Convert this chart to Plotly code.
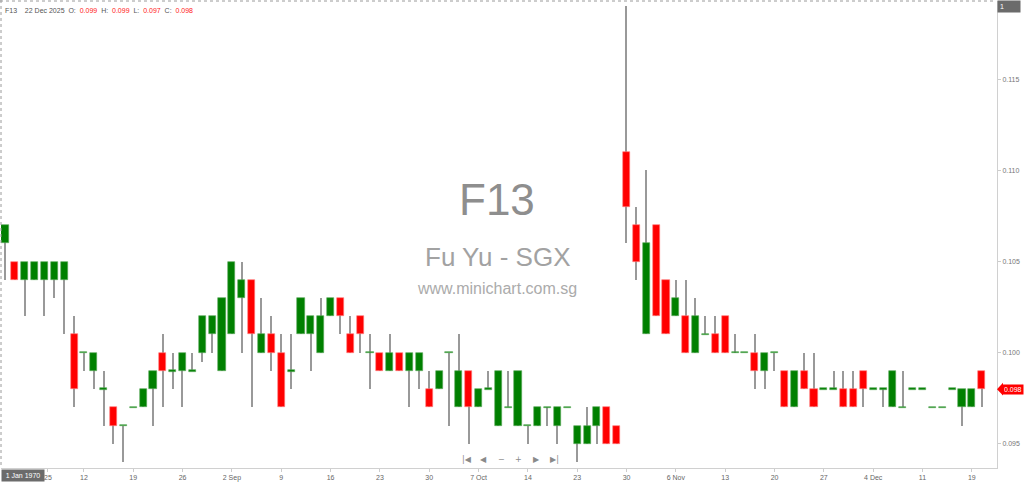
import plotly.graph_objects as go

# ---------------- data ----------------
symbol = "F13"
company = "Fu Yu - SGX"
site = "www.minichart.com.sg"
last_date = "22 Dec 2025"

opens = [0.106, 0.105, 0.104, 0.104, 0.104, 0.104, 0.104, 0.101, 0.100, 0.099,
         0.098, 0.097, 0.096, 0.097, 0.097, 0.098, 0.100, 0.099, 0.099, 0.099,
         0.100, 0.101, 0.099, 0.101, 0.103, 0.104, 0.100, 0.101, 0.100, 0.099,
         0.101, 0.101, 0.100, 0.102, 0.103, 0.101, 0.102, 0.100, 0.100, 0.099,
         0.100, 0.099, 0.099, 0.098, 0.098, 0.100, 0.097, 0.099, 0.097, 0.098,
         0.096, 0.097, 0.096, 0.096, 0.096, 0.097, 0.096, 0.097, 0.095, 0.095,
         0.096, 0.097, 0.096, 0.111, 0.107, 0.101, 0.107, 0.104, 0.102, 0.102,
         0.100, 0.101, 0.101, 0.102, 0.100, 0.100, 0.100, 0.099, 0.100, 0.099,
         0.097, 0.099, 0.098, 0.098, 0.098, 0.098, 0.098, 0.099, 0.098, 0.098,
         0.097, 0.097, 0.098, 0.098, 0.097, 0.097, 0.098, 0.097, 0.097, 0.099]
highs = [0.107, 0.105, 0.105, 0.105, 0.105, 0.105, 0.105, 0.102, 0.100, 0.100,
         0.099, 0.097, 0.096, 0.097, 0.098, 0.099, 0.101, 0.100, 0.100, 0.100,
         0.102, 0.102, 0.103, 0.105, 0.105, 0.104, 0.103, 0.102, 0.101, 0.101,
         0.103, 0.102, 0.103, 0.103, 0.103, 0.102, 0.102, 0.101, 0.100, 0.101,
         0.100, 0.100, 0.100, 0.099, 0.099, 0.100, 0.101, 0.099, 0.098, 0.099,
         0.099, 0.099, 0.099, 0.096, 0.097, 0.097, 0.097, 0.097, 0.096, 0.097,
         0.097, 0.097, 0.096, 0.119, 0.108, 0.110, 0.107, 0.104, 0.104, 0.104,
         0.103, 0.102, 0.102, 0.102, 0.101, 0.100, 0.101, 0.100, 0.100, 0.099,
         0.099, 0.100, 0.100, 0.098, 0.099, 0.099, 0.099, 0.099, 0.098, 0.098,
         0.099, 0.099, 0.098, 0.098, 0.097, 0.097, 0.098, 0.098, 0.098, 0.099]
lows = [0.104, 0.104, 0.102, 0.104, 0.102, 0.103, 0.101, 0.097, 0.099, 0.098,
        0.096, 0.095, 0.094, 0.097, 0.097, 0.096, 0.097, 0.098, 0.097, 0.099,
        0.0995, 0.100, 0.099, 0.101, 0.100, 0.097, 0.100, 0.099, 0.097, 0.098,
        0.101, 0.099, 0.100, 0.102, 0.101, 0.100, 0.100, 0.098, 0.099, 0.099,
        0.099, 0.097, 0.098, 0.097, 0.098, 0.096, 0.097, 0.095, 0.097, 0.098,
        0.096, 0.097, 0.096, 0.095, 0.096, 0.096, 0.095, 0.097, 0.094, 0.095,
        0.095, 0.095, 0.095, 0.106, 0.104, 0.101, 0.102, 0.101, 0.102, 0.100,
        0.100, 0.101, 0.100, 0.100, 0.100, 0.100, 0.098, 0.098, 0.099, 0.097,
        0.097, 0.098, 0.097, 0.098, 0.098, 0.097, 0.097, 0.097, 0.098, 0.097,
        0.097, 0.097, 0.098, 0.098, 0.097, 0.097, 0.098, 0.096, 0.097, 0.097]
closes = [0.107, 0.104, 0.105, 0.105, 0.105, 0.105, 0.105, 0.098, 0.100, 0.100,
          0.098, 0.096, 0.096, 0.097, 0.098, 0.099, 0.099, 0.099, 0.100, 0.099,
          0.102, 0.102, 0.103, 0.105, 0.104, 0.101, 0.101, 0.100, 0.097, 0.099,
          0.103, 0.102, 0.102, 0.103, 0.102, 0.100, 0.101, 0.100, 0.099, 0.100,
          0.099, 0.100, 0.100, 0.097, 0.099, 0.100, 0.099, 0.097, 0.098, 0.098,
          0.099, 0.097, 0.099, 0.096, 0.097, 0.097, 0.097, 0.097, 0.096, 0.096,
          0.097, 0.095, 0.095, 0.108, 0.105, 0.106, 0.102, 0.101, 0.103, 0.100,
          0.102, 0.101, 0.100, 0.100, 0.100, 0.100, 0.099, 0.100, 0.100, 0.097,
          0.099, 0.098, 0.097, 0.098, 0.098, 0.097, 0.097, 0.098, 0.098, 0.098,
          0.099, 0.097, 0.098, 0.098, 0.097, 0.097, 0.098, 0.098, 0.098, 0.098]

tick_index = [4.35, 8, 13, 18, 23, 28, 33, 38, 43, 48, 53, 58, 63, 68, 73, 78, 83, 88, 93, 98]
tick_labels = ["25", "12", "19", "26", "2 Sep", "9", "16", "23", "30", "7 Oct",
               "14", "23", "30", "6 Nov", "13", "20", "27", "4 Dec", "11", "19"]
price_ticks = [0.095, 0.100, 0.105, 0.110, 0.115]

# ---------------- styling ----------------
UP = "#008000"
DOWN = "#ff0000"
WICK = "#999999"
FONT = "Liberation Sans, Arial, sans-serif"

n = len(opens)
xs = list(range(n))
flat_h = 0.00008
body_base, body_h, body_col, body_line = [], [], [], []
for o, c in zip(opens, closes):
    lo, hi = min(o, c), max(o, c)
    if hi - lo < 1e-9:
        body_base.append(lo - flat_h / 2)
        body_h.append(flat_h)
    else:
        body_base.append(lo)
        body_h.append(hi - lo)
    up = c >= o
    body_col.append(UP if up else DOWN)
    body_line.append("#5aa85a" if up else "#ff8080")

fig = go.Figure()
# wicks
fig.add_trace(go.Bar(
    x=xs, base=lows, y=[h - l for h, l in zip(highs, lows)],
    width=0.13, marker=dict(color=WICK, line=dict(width=0)),
    hoverinfo="skip", showlegend=False))
# bodies
fig.add_trace(go.Bar(
    x=xs, base=body_base, y=body_h, width=0.72,
    marker=dict(color=body_col, line=dict(color=body_line, width=0.6)),
    customdata=list(zip(opens, highs, lows, closes)),
    hovertemplate="O %{customdata[0]:.3f}<br>H %{customdata[1]:.3f}<br>"
                  "L %{customdata[2]:.3f}<br>C %{customdata[3]:.3f}<extra></extra>",
    showlegend=False))

# ---------------- layout ----------------
L, R, T, B = 1, 27, 1, 16
W, H = 1024, 484
pw, ph = W - L - R, H - T - B


def px(xp):
    return (xp - L) / pw


def py(yp):
    return (H - B - yp) / ph


annotations = []
hdr = (f"{symbol}&nbsp;&nbsp;&nbsp; {last_date}&nbsp; O:&nbsp; <span style='color:#ff2020'>{opens[-1]:.3f}</span>"
       f"&nbsp; H:&nbsp; <span style='color:#ff2020'>{highs[-1]:.3f}</span>"
       f"&nbsp; L:&nbsp; <span style='color:#ff2020'>{lows[-1]:.3f}</span>"
       f"&nbsp; C:&nbsp; <span style='color:#ff2020'>{closes[-1]:.3f}</span>")
annotations.append(dict(text=hdr, xref="paper", yref="paper", x=px(3), y=py(10),
                        xanchor="left", yanchor="middle", showarrow=False,
                        font=dict(family=FONT, size=7, color="#555555")))
annotations.append(dict(text=symbol, xref="paper", yref="paper", x=px(497), y=py(199),
                        xanchor="center", yanchor="middle", showarrow=False,
                        font=dict(family=FONT, size=44, color="#8e8e8e")))
annotations.append(dict(text=company, xref="paper", yref="paper", x=px(497), y=py(257.5),
                        xanchor="center", yanchor="middle", showarrow=False,
                        font=dict(family=FONT, size=26, color="#a2a2a2")))
annotations.append(dict(text=site, xref="paper", yref="paper", x=px(497), y=py(288.5),
                        xanchor="center", yanchor="middle", showarrow=False,
                        font=dict(family=FONT, size=16, color="#ababab")))
nav = ["|◀", "◀", "−", "+", "▶", "▶|"]
nav_x = [466.7, 483.3, 501, 518.3, 536.7, 554.3]
for t, xx in zip(nav, nav_x):
    annotations.append(dict(text=t, xref="paper", yref="paper", x=px(xx), y=py(459),
                            xanchor="center", yanchor="middle", showarrow=False,
                            font=dict(family="DejaVu Sans", size=8, color="#8a8a8a")))
annotations.append(dict(text="1 Jan 1970", xref="paper", yref="paper", x=px(1), y=py(476),
                        xanchor="left", yanchor="middle", showarrow=False, width=38,
                        bgcolor="#6b6b6b", borderpad=2,
                        font=dict(family=FONT, size=7, color="#ffffff")))
annotations.append(dict(text="1", xref="paper", yref="paper", x=px(997), y=py(6.5),
                        xanchor="left", yanchor="middle", showarrow=False, width=18,
                        align="left", bgcolor="#6b6b6b", borderpad=2,
                        font=dict(family=FONT, size=7, color="#ffffff")))
annotations.append(dict(text=f"{closes[-1]:.3f}", xref="paper", yref="y", x=px(1002), y=closes[-1],
                        xanchor="left", yanchor="middle", showarrow=False, width=18,
                        align="left", bgcolor=DOWN if closes[-1] < opens[-1] else UP, borderpad=1,
                        font=dict(family=FONT, size=7, color="#ffffff")))

dy = 0.00035
shapes = [
    dict(type="line", xref="paper", yref="paper", x0=px(0), x1=px(996), y0=py(1), y1=py(1),
         line=dict(color="#9a9a9a", width=1, dash="dot")),
    dict(type="line", xref="paper", yref="paper", x0=px(1), x1=px(1), y0=py(0), y1=py(468),
         line=dict(color="#9a9a9a", width=1, dash="dot")),
    dict(type="path", xref="paper", yref="y",
         path=f"M {px(997)},{closes[-1]} L {px(1003)},{closes[-1] + dy} L {px(1003)},{closes[-1] - dy} Z",
         fillcolor=DOWN, line=dict(width=0)),
]

fig.update_layout(
    width=W, height=H, autosize=False,
    margin=dict(l=L, r=R, t=T, b=B, pad=0),
    paper_bgcolor="#ffffff", plot_bgcolor="#ffffff",
    barmode="overlay", bargap=0, showlegend=False,
    font=dict(family=FONT, size=7, color="#666666"),
    xaxis=dict(range=[-0.405, 100.55], tickmode="array", tickvals=tick_index,
               ticktext=tick_labels, showgrid=False, zeroline=False,
               showline=True, linecolor="#d0d0d0", linewidth=1,
               ticks="outside", ticklen=3, tickcolor="#cccccc",
               tickfont=dict(family=FONT, size=7, color="#666666"), fixedrange=True),
    yaxis=dict(range=[0.093679, 0.119282], side="right", tickmode="array",
               tickvals=price_ticks, ticktext=[f"{v:.3f}" for v in price_ticks],
               showgrid=False, zeroline=False, showline=True, linecolor="#d0d0d0",
               linewidth=1, ticks="outside", ticklen=3, tickcolor="#cccccc",
               tickfont=dict(family=FONT, size=7, color="#777777"), fixedrange=True),
    annotations=annotations, shapes=shapes,
)

fig.write_html("out.html", config={"displayModeBar": False},
               post_script="document.body.style.margin='0';")
